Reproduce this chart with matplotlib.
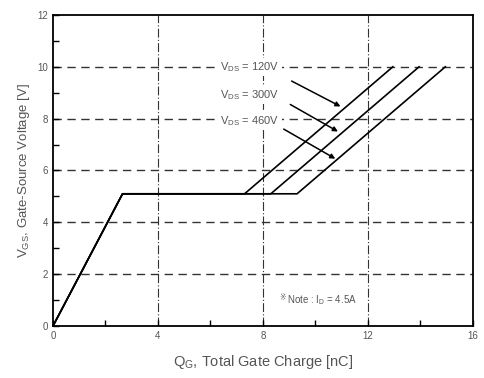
import numpy as np
import matplotlib.pyplot as plt

plt.rcParams['font.family'] = ['Liberation Sans', 'DejaVu Sans']
plt.rcParams['mathtext.fontset'] = 'custom'
plt.rcParams['mathtext.rm'] = 'Liberation Sans'

# Gate charge curves (Qg in nC, Vgs in V)
qg_120v = [0, 2.65, 7.3, 12.95]
vgs_120v = [0, 5.1, 5.1, 10.0]
qg_300v = [0, 2.65, 8.3, 13.95]
vgs_300v = [0, 5.1, 5.1, 10.0]
qg_460v = [0, 2.65, 9.3, 14.95]
vgs_460v = [0, 5.1, 5.1, 10.0]

labels = [r'V$\mathregular{_{DS}}$ = 120V', r'V$\mathregular{_{DS}}$ = 300V',
          r'V$\mathregular{_{DS}}$ = 460V']
label_pos = [(7.5, 10.0), (7.5, 8.9), (7.5, 7.9)]
arrow_start = [(9.0, 9.5), (8.95, 8.6), (8.7, 7.65)]
arrow_end = [(11.05, 8.42), (10.95, 7.45), (10.85, 6.4)]

fig = plt.figure(figsize=(4.84, 3.78), dpi=100)
ax = fig.add_axes([0.1095, 0.1376, 0.8675, 0.8228])

txt = '#555555'

# grid
for y in [2, 4, 6, 8, 10]:
    ax.axhline(y, color='#333333', lw=1.0, ls=(0, (6, 4)), zorder=1)
for x in [4, 8, 12]:
    ax.axvline(x, color='#333333', lw=0.8, ls=(0, (8, 2, 1, 2)), zorder=1)

for q, v in [(qg_120v, vgs_120v), (qg_300v, vgs_300v), (qg_460v, vgs_460v)]:
    ax.plot(q, v, color='black', lw=1.2, zorder=3)

for lab, pos in zip(labels, label_pos):
    ax.text(pos[0], pos[1], lab, fontsize=8, color=txt, ha='center', va='center',
            bbox=dict(facecolor='white', edgecolor='none', pad=1.5), zorder=4)

for s, e in zip(arrow_start, arrow_end):
    ax.annotate('', xy=e, xytext=s,
                arrowprops=dict(arrowstyle='-|>', color='black', lw=1.1,
                                mutation_scale=7), zorder=5)

ax.text(10.25, 1.0, r'Note : I$\mathregular{_D}$ = 4.5A', fontsize=7, color=txt,
        ha='center', va='center',
        bbox=dict(facecolor='white', edgecolor='none', pad=1.5), zorder=4)
ax.text(8.75, 1.08, '※', fontsize=5.5, color=txt, family='DejaVu Sans',
        ha='center', va='center', zorder=5)

ax.set_xlim(0, 16)
ax.set_ylim(0, 12)
ax.set_xticks([0, 4, 8, 12, 16])
ax.set_xticks([2, 6, 10, 14], minor=True)
ax.set_yticks([0, 2, 4, 6, 8, 10, 12])
ax.set_yticks([1, 3, 5, 7, 9, 11], minor=True)
ax.tick_params(which='both', direction='in', labelsize=7, labelcolor=txt, width=1.0)
ax.tick_params(which='major', length=4)
ax.tick_params(which='minor', length=4)
for sp in ax.spines.values():
    sp.set_linewidth(1.3)

ax.set_xlabel(r'Q$\mathregular{_G}$, Total Gate Charge [nC]', fontsize=10.5, color=txt,
              labelpad=9)
ax.set_ylabel(r'V$\mathregular{_{GS}}$, Gate-Source Voltage [V]', fontsize=9.5, color=txt,
              labelpad=4)

fig.savefig('out.png', dpi=100)
